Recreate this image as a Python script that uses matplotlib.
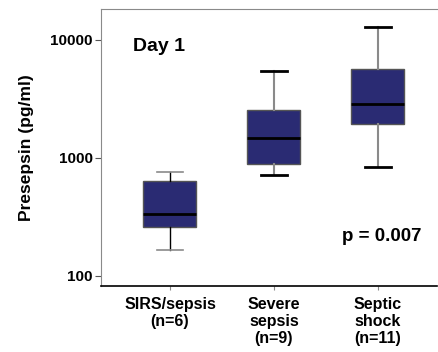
import matplotlib
matplotlib.use("Agg")
import matplotlib.pyplot as plt
from matplotlib.ticker import FixedLocator, NullLocator

plt.rcParams["font.family"] = ["Liberation Sans", "DejaVu Sans"]
plt.rcParams["font.weight"] = "bold"

groups = ["SIRS/sepsis\n(n=6)", "Severe\nsepsis\n(n=9)", "Septic\nshock\n(n=11)"]
whisker_low = [167, 717, 841]
q1 = [258, 880, 1937]
medians = [337, 1467, 2880]
q3 = [640, 2540, 5700]
whisker_high = [764, 5430, 12770]
y_ticks = [100, 1000, 10000]

box_color = "#2a2b73"
gray = "#8a8a8a"

fig = plt.figure(figsize=(4.38, 3.52), dpi=100)
ax = fig.add_axes([0.2306, 0.1875, 0.767, 0.787])

stats = []
for i, label in enumerate(groups):
    stats.append({
        "label": label,
        "whislo": whisker_low[i],
        "q1": q1[i],
        "med": medians[i],
        "q3": q3[i],
        "whishi": whisker_high[i],
        "fliers": [],
    })

bp = ax.bxp(
    stats,
    positions=[1, 2, 3],
    widths=0.51,
    patch_artist=True,
    boxprops=dict(facecolor=box_color, edgecolor="#555555", linewidth=1.0),
    medianprops=dict(color="black", linewidth=2),
    whiskerprops=dict(color=gray, linewidth=1.5),
    capprops=dict(color="black", linewidth=2),
    capwidths=0.25,
)
# first group: dark whiskers, light caps
for w in bp["whiskers"][:2]:
    w.set_color("black")
    w.set_linewidth(1.0)
for c in bp["caps"][:2]:
    c.set_color(gray)
    c.set_linewidth(1.2)

ax.set_yscale("log")
ax.set_ylim(82, 18300)
ax.set_xlim(0.337, 3.567)
ax.yaxis.set_major_locator(FixedLocator(y_ticks))
ax.yaxis.set_minor_locator(NullLocator())
ax.set_yticklabels([str(v) for v in y_ticks], fontsize=11, fontweight="bold")
ax.set_xticklabels(groups, fontsize=11.5, fontweight="bold", linespacing=1.15)
ax.tick_params(axis="x", length=3, color=gray, pad=5)
ax.tick_params(axis="y", length=4, color="#555555", pad=2)

ax.spines["right"].set_visible(False)
ax.spines["top"].set_color(gray)
ax.spines["left"].set_color(gray)
ax.spines["bottom"].set_color("black")
ax.spines["bottom"].set_linewidth(1.2)

ax.set_ylabel("Presepsin (pg/ml)", fontsize=12.5, fontweight="bold", labelpad=12)
ax.text(0.095, 0.863, "Day 1", transform=ax.transAxes, fontsize=14, fontweight="bold", va="center")
ax.text(0.716, 0.177, "p = 0.007", transform=ax.transAxes, fontsize=13.5, fontweight="bold", va="center")

fig.savefig("out.png", dpi=100)
